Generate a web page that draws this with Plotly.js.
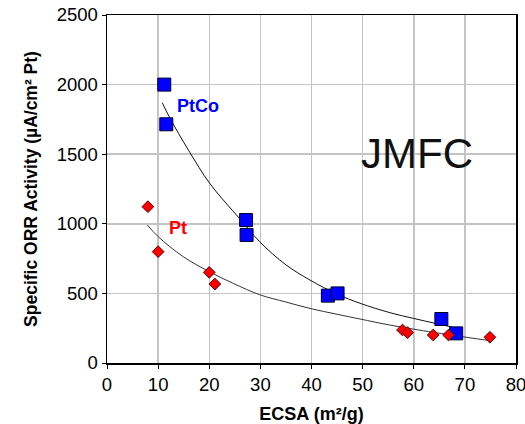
<!DOCTYPE html>
<html>
<head>
<meta charset="utf-8">
<script src="https://cdn.plot.ly/plotly-3.0.1.min.js"></script>
<style>html,body{margin:0;padding:0;background:#fff;}#chart{width:525px;height:424px;}</style>
</head>
<body>
<div id="chart"></div>
<script>
// Data points (ECSA m²/g, specific activity µA/cm² Pt)
var ptcoX = [11.2, 11.6, 27.2, 27.3, 43.2, 45.1, 65.4, 68.3];
var ptcoY = [2000, 1715, 1027, 920, 484, 500, 316, 213];
var ptX = [8.0, 10.0, 20.0, 21.1, 57.8, 58.8, 63.8, 66.8, 74.9];
var ptY = [1123, 800, 651, 567, 237, 218, 201, 201, 185];

// Trend lines
var ptcoFitX = [10.8, 12.3, 16, 20.2, 26.0, 29.9, 35, 39.7, 45, 49.5, 55.4, 60, 64.2, 67.5];
var ptcoFitY = [1870, 1760, 1525, 1285, 1035, 870, 705, 596, 495, 429, 361, 320, 285, 258];
var ptFitX = [7.9, 10, 14.9, 20, 24.7, 29.9, 35, 39.7, 45, 49.5, 55.4, 60, 63.9, 70.6, 75];
var ptFitY = [991, 908, 764, 656, 572, 490, 438, 392, 350, 316, 272, 243, 220, 183, 160];

var xTicks = [0, 10, 20, 30, 40, 50, 60, 70, 80];
var yTicks = [0, 500, 1000, 1500, 2000, 2500];

var FONT = "Liberation Sans, Arial, sans-serif";

var traces = [
  {x: ptcoFitX, y: ptcoFitY, mode: 'lines', line: {color: '#111', width: 1, shape: 'spline'}, hoverinfo: 'skip'},
  {x: ptFitX, y: ptFitY, mode: 'lines', line: {color: '#333', width: 1, shape: 'spline'}, hoverinfo: 'skip'},
  {x: ptcoX, y: ptcoY, mode: 'markers', name: 'PtCo',
   marker: {symbol: 'square', size: 13, color: '#0000ff', line: {color: '#000033', width: 1}}},
  {x: ptX, y: ptY, mode: 'markers', name: 'Pt',
   marker: {symbol: 'diamond', size: 9, color: '#ff0000', line: {color: '#550000', width: 1}}}
];

var layout = {
  width: 525, height: 424,
  margin: {l: 107, r: 9, t: 15, b: 61},
  paper_bgcolor: '#fff', plot_bgcolor: '#fff',
  showlegend: false,
  font: {family: FONT, color: '#000', size: 18.5},
  xaxis: {
    range: [0, 80], tickvals: xTicks, ticktext: xTicks.map(String),
    ticklabeloverflow: 'allow',
    showgrid: true, gridcolor: '#c4c4c4', gridwidth: 1.5,
    showline: true, linecolor: '#000', linewidth: 1.5, mirror: true,
    ticks: 'outside', ticklen: 4, tickcolor: '#000',
    zeroline: false,
    tickfont: {family: FONT, size: 18.5, color: '#000'},
    title: {text: '<b>ECSA (m²/g)</b>', font: {family: FONT, size: 18, color: '#000'}, standoff: 16}
  },
  yaxis: {
    range: [0, 2500], tickvals: yTicks, ticktext: yTicks.map(String),
    showgrid: true, gridcolor: '#c4c4c4', gridwidth: 1.5,
    showline: true, linecolor: '#000', linewidth: 1.5, mirror: true,
    ticks: 'outside', ticklen: 4, tickcolor: '#000',
    zeroline: false,
    tickfont: {family: FONT, size: 18.5, color: '#000'},
    title: {text: '<b>Specific ORR Activity (µA/cm² Pt)</b>', font: {family: FONT, size: 17.5, color: '#000'}, standoff: 14}
  },
  annotations: [
    {x: 198, y: 106, xref: 'paper', yref: 'paper', text: '<b>PtCo</b>', showarrow: false,
     font: {family: FONT, size: 18, color: '#0000ff'}},
    {x: 177.5, y: 228, xref: 'paper', yref: 'paper', text: '<b>Pt</b>', showarrow: false,
     font: {family: FONT, size: 18, color: '#ff0000'}},
    {x: 417, y: 154, xref: 'paper', yref: 'paper', text: 'JMFC', showarrow: false,
     font: {family: FONT, size: 42, color: '#111'}}
  ]
};

// convert pixel positions of annotations into paper coordinates
var pw = 525 - 107 - 9, ph = 424 - 15 - 61;
layout.annotations.forEach(function(a){
  a.x = (a.x - 107) / pw;
  a.y = 1 - (a.y - 15) / ph;
  a.xanchor = 'center'; a.yanchor = 'middle';
});

Plotly.newPlot('chart', traces, layout, {displayModeBar: false, staticPlot: true});
</script>
</body>
</html>
